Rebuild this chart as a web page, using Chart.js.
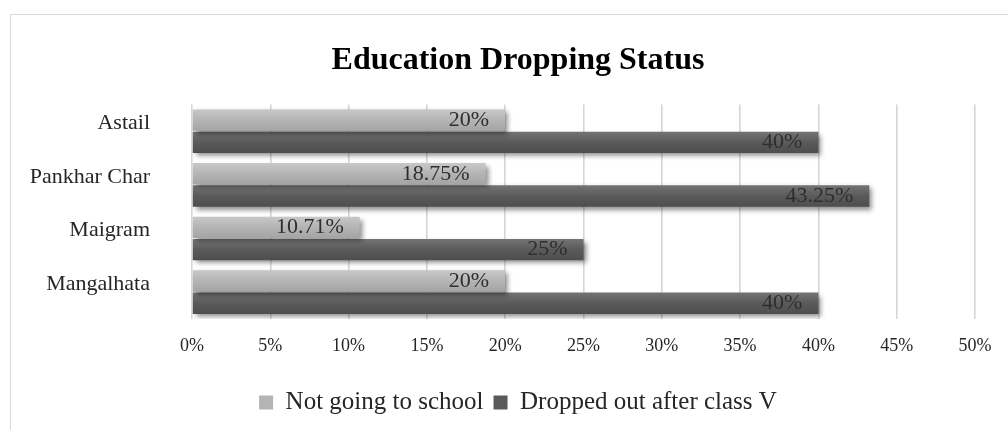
<!DOCTYPE html>
<html>
<head>
<meta charset="utf-8">
<title>Education Dropping Status</title>
<script src="https://cdn.jsdelivr.net/npm/chart.js@4/dist/chart.umd.min.js"></script>
<style>
    html,body{
        margin:0;
        padding:0;
        background:#fff;
        overflow:hidden;
    }
    #frame{
        position:absolute;
        left:10px;
        top:14px;
        width:1100px;
        height:600px;
        border:1.5px solid #d9d9d9;
        box-sizing:border-box;
    }
    #wrap{
        position:absolute;
        left:0;
        top:0;
        width:1008px;
        height:430px;
    }
</style>
</head>
<body>

<div id="frame"></div>

<div id="wrap">
    <canvas id="dropChart"></canvas>
</div>

<script>

// ======================================
// DATA
// ======================================

const villages = ["Astail","Pankhar Char","Maigram","Mangalhata"];

const notGoing = [20, 18.75, 10.71, 20];

const droppedOut = [40, 43.25, 25, 40];

const xTicks = [0,5,10,15,20,25,30,35,40,45,50];

const seriesNames = ["Not going to school","Dropped out after class V"];

const FONT = "'Liberation Serif', 'Times New Roman', serif";

// ======================================
// BAR GRADIENT + SHADOW
// ======================================

const shades = [
    ["#c8c8c8","#b4b4b4","#a4a4a4"],
    ["#747474","#5a5a5a","#4e4e4e"]
];

const barLook = {

    id:"barLook",

    // title and legend are centred on the frame, not the canvas
    afterLayout(chart){

        chart.titleBlock.left = 61;
        chart.legend.left = 61;

    },

    beforeDatasetsDraw(chart){

        const ctx = chart.ctx;

        ctx.save();

        ctx.shadowColor = "rgba(0,0,0,0.45)";
        ctx.shadowBlur = 5;
        ctx.shadowOffsetX = 3;
        ctx.shadowOffsetY = 3;

        chart.data.datasets.forEach((ds,di)=>{

            const meta = chart.getDatasetMeta(di);

            meta.data.forEach(bar=>{

                const top = bar.y - bar.height/2;
                const g = ctx.createLinearGradient(0, top, 0, top + bar.height);

                g.addColorStop(0, shades[di][0]);
                g.addColorStop(0.5, shades[di][1]);
                g.addColorStop(1, shades[di][2]);

                bar.options = Object.assign({}, bar.options, {backgroundColor:g});

            });

        });

    },

    afterDatasetsDraw(chart){

        const ctx = chart.ctx;

        ctx.restore();

        // value labels, inside end of each bar
        ctx.save();
        ctx.font = "22px " + FONT;
        ctx.fillStyle = "#2e2e2e";
        ctx.textAlign = "right";
        ctx.textBaseline = "middle";

        chart.data.datasets.forEach((ds,di)=>{

            chart.getDatasetMeta(di).data.forEach((bar,i)=>{

                ctx.fillText(ds.data[i] + "%", bar.x - 16, bar.y);

            });

        });

        ctx.restore();

    }

};

// ======================================
// CHART
// ======================================

new Chart(

    document.getElementById("dropChart"),

    {

        type:"bar",

        data:{

            labels:villages,

            datasets:[

                {
                    label:seriesNames[0],
                    data:notGoing,
                    backgroundColor:"#b4b4b4"
                },

                {
                    label:seriesNames[1],
                    data:droppedOut,
                    backgroundColor:"#5a5a5a"
                }

            ]

        },

        options:{

            indexAxis:"y",
            responsive:true,
            maintainAspectRatio:false,
            animation:false,

            datasets:{
                bar:{
                    categoryPercentage:0.83,
                    barPercentage:0.96
                }
            },

            layout:{
                padding:{left:0, right:33, top:42, bottom:5}
            },

            plugins:{

                title:{
                    display:true,
                    text:"Education Dropping Status",
                    color:"#000",
                    font:{family:FONT, size:32, weight:"bold"},
                    padding:{top:0, bottom:24}
                },

                legend:{
                    position:"bottom",
                    labels:{
                        color:"#262626",
                        font:{family:FONT, size:25},
                        boxWidth:14,
                        boxHeight:14,
                        padding:10
                    }
                },

                tooltip:{enabled:false}

            },

            scales:{

                x:{
                    min:0,
                    max:50,
                    afterBuildTicks(scale){
                        scale.ticks = xTicks.map(v=>({value:v}));
                    },
                    afterFit(scale){
                        scale.height = 61;
                    },
                    grid:{
                        color:"#d6d6d6",
                        lineWidth:1.6,
                        drawTicks:false
                    },
                    border:{display:false},
                    ticks:{
                        padding:16,
                        color:"#262626",
                        font:{family:FONT, size:18},
                        callback:v=>v + "%"
                    }
                },

                y:{
                    afterFit(scale){
                        scale.width = 192;
                    },
                    grid:{display:false, drawTicks:false},
                    border:{display:false},
                    ticks:{
                        padding:42,
                        labelOffset:-8,
                        color:"#262626",
                        font:{family:FONT, size:22}
                    }
                }

            }

        },

        plugins:[barLook]

    }

);

</script>
</body>
</html>
